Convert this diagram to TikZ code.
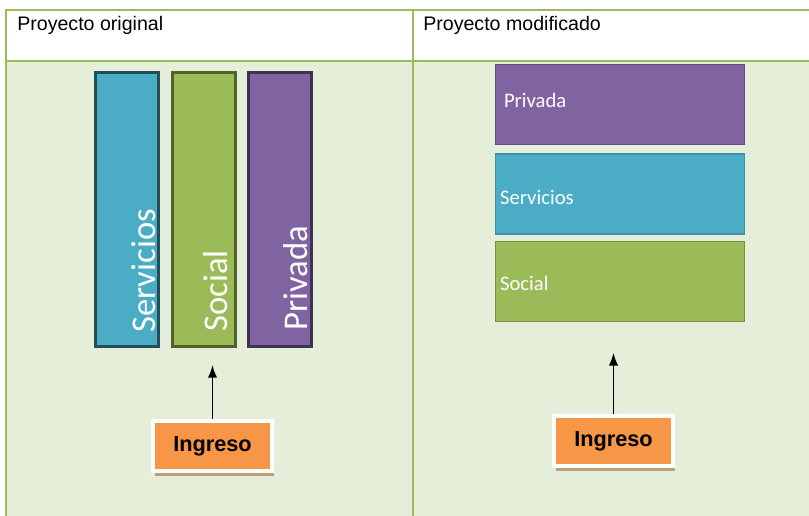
\documentclass[tikz,border=0pt]{standalone}
\usepackage{fontspec}
\setmainfont{Liberation Sans}
\newfontfamily\calibrifont{Carlito}
\usetikzlibrary{arrows.meta,shadows}

\definecolor{tablegreen}{RGB}{155,187,89}
\definecolor{bodybg}{RGB}{229,238,216}
\definecolor{aquafill}{RGB}{75,172,198}
\definecolor{aqualine}{RGB}{33,78,90}
\definecolor{aquaedge}{RGB}{60,145,168}
\definecolor{greenfill}{RGB}{155,187,89}
\definecolor{greenline}{RGB}{79,98,40}
\definecolor{greenedge}{RGB}{118,145,64}
\definecolor{purplefill}{RGB}{128,100,162}
\definecolor{purpleline}{RGB}{63,49,81}
\definecolor{purpleedge}{RGB}{98,76,126}
\definecolor{ingorange}{RGB}{247,150,70}
\definecolor{shadowtan}{RGB}{185,160,120}

\begin{document}
\begin{tikzpicture}[x=0.75pt,y=0.75pt,yscale=-1,xscale=1,
    colbox/.style={draw, line width=2.25pt, minimum width=47.25pt, minimum height=205.5pt, inner sep=0pt},
    rowbox/.style={draw, line width=1.1pt, minimum width=186.75pt, minimum height=60pt, inner sep=0pt},
    coltext/.style={rotate=90, anchor=base west, inner sep=0pt, text=white, font=\calibrifont\fontsize{26}{30}\selectfont},
    rowtext/.style={anchor=west, inner sep=0pt, text=white, font=\calibrifont\fontsize{15.5}{18}\selectfont},
    ingbox/.style={fill=ingorange, draw=white, line width=3pt, minimum width=89pt, minimum height=38pt, inner sep=0pt,
        font=\bfseries\fontsize{16.3}{18}\selectfont,
        drop shadow={shadow xshift=1.5pt, shadow yshift=-3.5pt, fill=shadowtan, opacity=1}},
    headtext/.style={anchor=base west, inner sep=0pt, font=\fontsize{14.7}{17}\selectfont},
    upArrow/.style={-{Latex[length=9.5pt,width=7pt]}, line width=1.3pt}
]
\clip (0,0) rectangle (809,516);

% table
\fill[bodybg] (6,61) rectangle (830,530);
\fill[white] (6,10) rectangle (830,61);
\draw[tablegreen, line width=1.5pt] (6,530) -- (6,10) -- (830,10);
\draw[tablegreen, line width=1.5pt] (6,61) -- (830,61);
\draw[tablegreen, line width=1.5pt] (413,10) -- (413,530);

% Text Node
\node[headtext] (headL) at (17,31) {Proyecto original};
% Text Node
\node[headtext] (headR) at (423,31) {Proyecto modificado};

% left: columns
\node[colbox, fill=aquafill, draw=aqualine] (svcL) at (127,209.5) {};
\node[colbox, fill=greenfill, draw=greenline] (socL) at (203.5,209.5) {};
\node[colbox, fill=purplefill, draw=purpleline] (privL) at (280,209.5) {};
\node[coltext] (svcLtext) at ([shift={(-5,-15)}]svcL.south east) {Servicios};
\node[coltext] (socLtext) at ([shift={(-9,-16)}]socL.south east) {Social};
\node[coltext] (privLtext) at ([shift={(-6,-17)}]privL.south east) {Privada};

% left: income
\node[ingbox] (ingL) at (212.5,446) {Ingreso};
\draw[upArrow, shorten >=12.75pt] (ingL) -- (ingL.north |- socL.south);

% right: rows
\node[rowbox, fill=purplefill, draw=purpleedge] (privR) at (620,104.5) {};
\node[rowbox, fill=aquafill, draw=aquaedge] (svcR) at (620,194) {};
\node[rowbox, fill=greenfill, draw=greenedge] (socR) at (620,281.5) {};
\node[rowtext] (privRtext) at ([shift={(9,-4)}]privR.west) {Privada};
\node[rowtext] (svcRtext) at ([shift={(5,3)}]svcR.west) {Servicios};
\node[rowtext] (socRtext) at ([shift={(5,1.5)}]socR.west) {Social};

% right: income
\node[ingbox] (ingR) at (613.5,441) {Ingreso};
\draw[upArrow, shorten >=23pt] (ingR) -- (ingR.north |- socR.south);

\end{tikzpicture}
\end{document}
